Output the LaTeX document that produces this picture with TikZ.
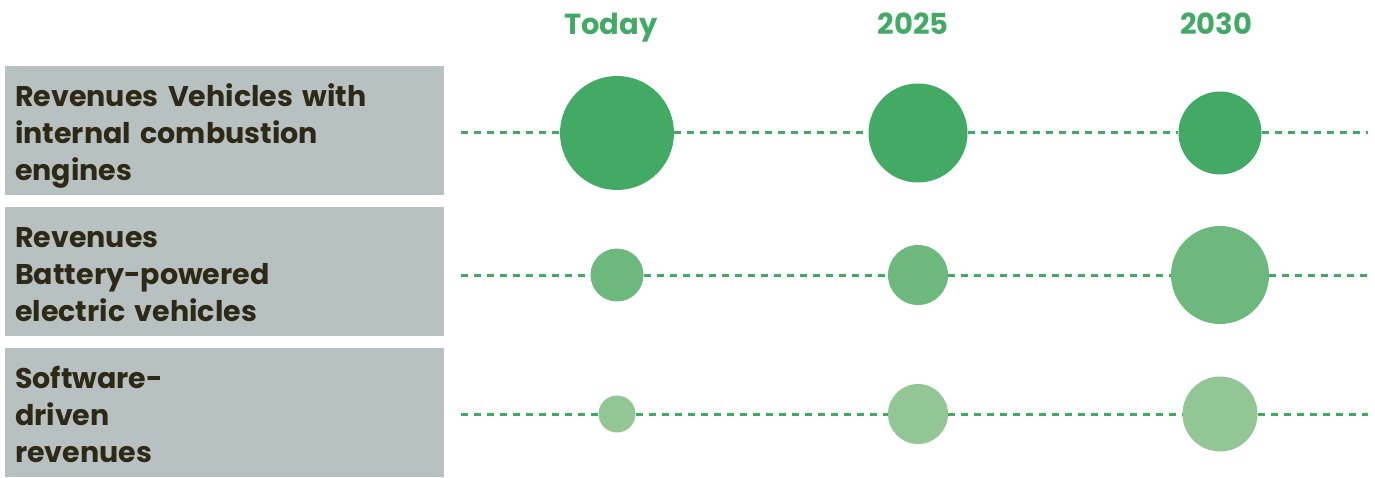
\documentclass[tikz,border=0pt]{standalone}
\usepackage{fontspec}
\usepackage{tikz}
\usepackage{xcolor}
\usetikzlibrary{positioning, calc}
\setmainfont{Poppins}
\definecolor{IceGreen}{HTML}{43AA66}
\definecolor{BevGreen}{HTML}{6DB87C}
\definecolor{SoftGreen}{HTML}{92C795}
\definecolor{BoxGray}{HTML}{B8C1C2}
\definecolor{DarkBrown}{HTML}{2E2914}
\newcommand{\rowfont}{\fontsize{28.5}{37}\selectfont\bfseries}

\begin{document}
\begin{tikzpicture}[x=1pt, y=-1pt,
    rowbox/.style={fill=BoxGray, anchor=north west, minimum width=439pt,
                   minimum height=129pt, text width=419pt, align=left,
                   text height=40pt, text depth=89pt,
                   inner sep=0pt, text=DarkBrown, font=\rowfont},
    yearlabel/.style={text=IceGreen, font=\fontsize{29}{32}\selectfont\bfseries,
                      anchor=base},
    dot/.style={circle, inner sep=0pt, minimum size=#1},
    guide/.style={IceGreen, line width=3pt, dash pattern=on 7pt off 6pt}]
\useasboundingbox (0,0) rectangle (1375,478);

% year headers
\node[yearlabel] (today) at (611,35) {Today};
\node[yearlabel] (y2025) at (913,35) {2025};
\node[yearlabel] (y2030) at (1216,35) {2030};

% row labels
\node[rowbox] (ice) at (5,66) {Revenues Vehicles with\\internal combustion\\engines};
\node[rowbox] (bev) at (5,207) {Revenues\\Battery-powered\\electric vehicles};
\node[rowbox] (soft) at (5,348) {Software-\\driven\\revenues};

% line ends
\coordinate (iceL) at (461,133);  \coordinate (iceR) at (1368,133);
\coordinate (bevL) at (461,275);  \coordinate (bevR) at (1368,275);
\coordinate (softL) at (461,414); \coordinate (softR) at (1368,414);

% circles
\node[dot=114pt, fill=IceGreen] (ice1) at (617,133) {};
\node[dot=99pt, fill=IceGreen] (ice2) at (918,133) {};
\node[dot=83pt, fill=IceGreen] (ice3) at (1220,133) {};
\node[dot=53pt, fill=BevGreen] (bev1) at (617,275) {};
\node[dot=60pt, fill=BevGreen] (bev2) at (918,275) {};
\node[dot=98pt, fill=BevGreen] (bev3) at (1220,275) {};
\node[dot=37pt, fill=SoftGreen] (soft1) at (617,414) {};
\node[dot=60pt, fill=SoftGreen] (soft2) at (918,414) {};
\node[dot=75pt, fill=SoftGreen] (soft3) at (1220,414) {};

% dashed guides
\draw[guide] (iceL) -- (ice1) (ice1) -- (ice2) (ice2) -- (ice3) (ice3) -- (iceR);
\draw[guide] (bevL) -- (bev1) (bev1) -- (bev2) (bev2) -- (bev3) (bev3) -- (bevR);
\draw[guide] (softL) -- (soft1) (soft1) -- (soft2) (soft2) -- (soft3) (soft3) -- (softR);
\end{tikzpicture}
\end{document}
